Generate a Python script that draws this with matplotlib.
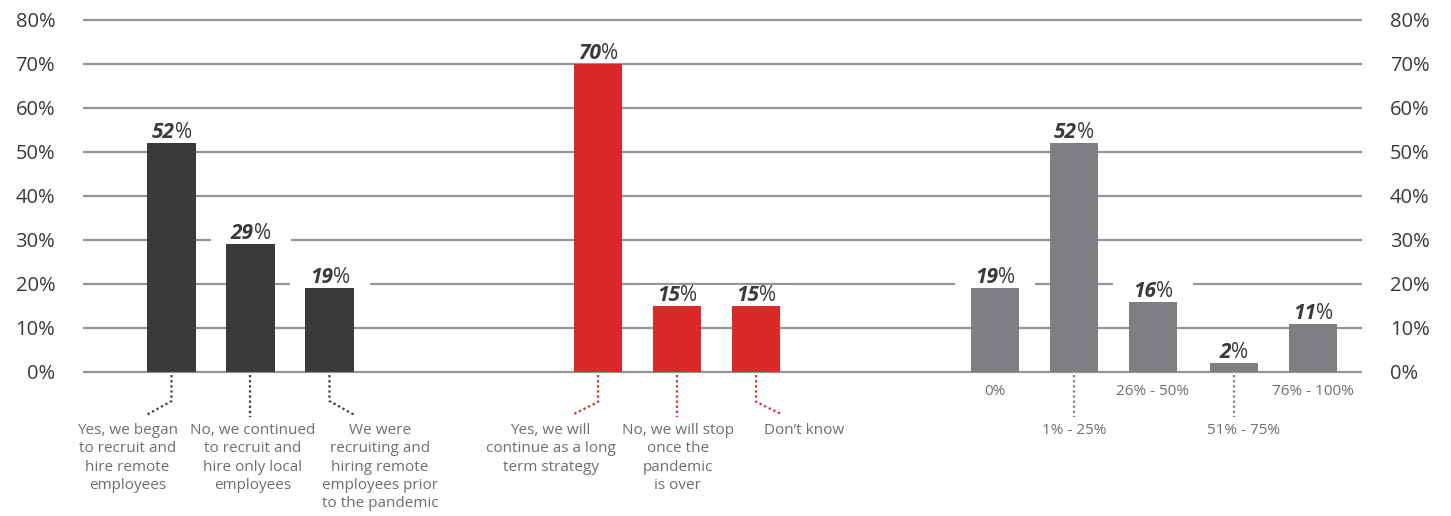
import numpy as np
import matplotlib
matplotlib.use("Agg")
import matplotlib.pyplot as plt
from matplotlib.patches import Rectangle
from matplotlib.transforms import IdentityTransform

# 数据
group1_labels = ["Yes, we began\nto recruit and\nhire remote\nemployees",
                 "No, we continued\nto recruit and\nhire only local\nemployees",
                 "We were\nrecruiting and\nhiring remote\nemployees prior\nto the pandemic"]
group1_values = [52, 29, 19]

group2_labels = ["Yes, we will\ncontinue as a long\nterm strategy",
                 "No, we will stop\nonce the\npandemic\nis over",
                 "Don\u2019t know"]
group2_values = [70, 15, 15]

group3_labels = ["0%", "1% - 25%", "26% - 50%", "51% - 75%", "76% - 100%"]
group3_values = [19, 52, 16, 2, 11]

y_ticks = [0, 10, 20, 30, 40, 50, 60, 70, 80]
y_tick_labels = [f"{t}%" for t in y_ticks]

# 样式
FONT = "Open Sans"
GRID_COLOR = "#939598"
TEXT_DARK = "#3a3a3a"
TEXT_GRAY = "#6d6e71"
COLORS = ["#3b3a39", "#db2828", "#7e7f83"]
BAR_W = 0.61
VAL_SIZE = 15

plt.rcParams["font.family"] = [FONT, "DejaVu Sans"]

pos1 = np.array([0.0, 1.0, 2.0])
pos2 = np.array([5.4, 6.4, 7.4])
pos3 = np.array([10.42, 11.42, 12.42, 13.45, 14.45])

fig = plt.figure(figsize=(14.51, 5.16), dpi=100)
ax = fig.add_axes([0.0572, 0.2791, 0.8815, 0.6822])
ax.set_xlim(-1.12, 15.07)
ax.set_ylim(0, 80)

# 网格线
ax.hlines(y_ticks, -1.12, 15.07, color=GRID_COLOR, lw=1.6, zorder=1, clip_on=False)

for s in ax.spines.values():
    s.set_visible(False)
ax.set_xticks([])
ax.set_yticks(y_ticks)
ax.set_yticklabels(y_tick_labels)
ax.tick_params(axis="y", length=0, pad=20, labelleft=True, labelright=True,
               labelsize=14.5, labelcolor=TEXT_DARK)

value_texts = []


def value_label(x, v):
    """数值标签：粗斜体数字 + 常规百分号"""
    t = ax.annotate(str(v), xy=(x, v), xytext=(-6, 3.6), textcoords="offset points",
                    ha="center", va="baseline", fontsize=VAL_SIZE, color=TEXT_DARK,
                    fontweight="bold", fontstyle="italic", zorder=4)
    p = ax.annotate("%", xy=(1, 0), xycoords=t, xytext=(0, 0), textcoords="offset points",
                    ha="left", va="bottom", fontsize=VAL_SIZE, color=TEXT_DARK, zorder=4)
    value_texts.append((x, v, t, p))


def connector(x, dx, color, y_break=-6.6, y_end=-9.8):
    if dx == 0:
        ax.plot([x, x], [-0.7, -10.2], color=color, lw=1.6, ls=(0, (1, 1.3)), clip_on=False)
    else:
        ax.plot([x, x, x + dx], [-0.7, y_break, y_end], color=color, lw=1.6,
                ls=(0, (1, 1.3)), clip_on=False)


for pos, vals, c in [(pos1, group1_values, COLORS[0]),
                     (pos2, group2_values, COLORS[1]),
                     (pos3, group3_values, COLORS[2])]:
    ax.bar(pos, vals, width=BAR_W, color=c, zorder=3)
    for x, v in zip(pos, vals):
        value_label(x, v)

# 分类标签与引线
label_kw = dict(ha="center", va="top", fontsize=11, color=TEXT_GRAY, linespacing=1.3)

for x, dx, lab, lx in zip(pos1, [-0.32, 0, 0.32], group1_labels, [-0.56, 1.03, 2.64]):
    connector(x, dx, COLORS[0])
    ax.text(lx, -11.6, lab, clip_on=False, **label_kw)

for x, dx, lab, lx in zip(pos2, [-0.3, 0, 0.31], group2_labels, [4.80, 6.41, 8.01]):
    connector(x, dx, COLORS[1], y_break=-6.8, y_end=-9.5)
    ax.text(lx, -11.6, lab, clip_on=False, **label_kw)

for i, (x, lab) in enumerate(zip(pos3, group3_labels)):
    if i % 2 == 0:
        ax.text(x, -2.7, lab, clip_on=False, **label_kw)
    else:
        connector(x, 0, COLORS[2])
        ax.text(x + (0.12 if i == 3 else 0), -11.6, lab, clip_on=False, **label_kw)

# 数值标签后的白底，遮断网格线
fig.canvas.draw()
renderer = fig.canvas.get_renderer()
for x, v, t, p in value_texts:
    b1 = t.get_window_extent(renderer)
    b2 = p.get_window_extent(renderer)
    x0 = min(b1.x0, b2.x0) - 20
    x1 = max(b1.x1, b2.x1) + 20
    y0 = ax.transData.transform((x, v))[1] + 2.5
    y1 = max(b1.y1, b2.y1)
    ax.add_patch(Rectangle((x0, y0), x1 - x0, y1 - y0, transform=IdentityTransform(),
                           facecolor="white", edgecolor="none", zorder=2, clip_on=False))

fig.savefig("out.png", dpi=100)
plt.close(fig)
